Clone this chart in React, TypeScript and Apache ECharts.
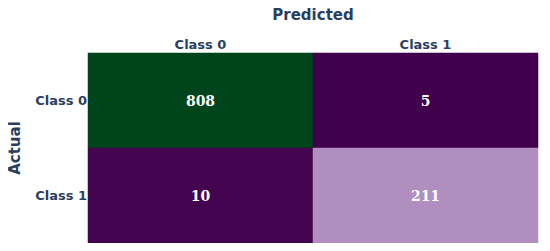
import React, { useEffect, useRef } from "react";
import * as echarts from "echarts";

const predictedLabels = ["Class 0", "Class 1"];
const actualLabels = ["Class 0", "Class 1"];
// rows: actual, cols: predicted
const counts = [
  [808, 5],
  [10, 211],
];
const prgn = [
  "rgb(64,0,75)", "rgb(118,42,131)", "rgb(153,112,171)", "rgb(194,165,207)",
  "rgb(231,212,232)", "rgb(247,247,247)", "rgb(217,240,211)", "rgb(166,219,160)",
  "rgb(90,174,97)", "rgb(27,120,55)", "rgb(0,68,27)",
];

export default function App() {
  const ref = useRef<HTMLDivElement>(null);
  useEffect(() => {
    if (!ref.current) return;
    const chart = echarts.init(ref.current, undefined, { renderer: "svg" });
    const data: [number, number, number][] = [];
    counts.forEach((row, r) => row.forEach((v, c) => data.push([c, r, v])));
    const flat = counts.flat();
    const textColor = "#2a3f5f";
    chart.setOption({
      animation: false,
      backgroundColor: "#ffffff",
      grid: { left: 88, top: 53, width: 450, height: 190, outerBoundsMode: "none", containLabel: false },
      xAxis: {
        type: "category",
        data: predictedLabels,
        position: "top",
        name: "Predicted",
        nameLocation: "middle",
        nameGap: 31,
        nameTextStyle: { color: textColor, fontFamily: "DejaVu Sans", fontWeight: "bold", fontSize: 15 },
        axisLine: { show: false },
        axisTick: { show: false },
        splitLine: { show: false },
        axisLabel: { color: textColor, fontFamily: "DejaVu Sans", fontWeight: "bold", fontSize: 13, margin: 2 },
      },
      yAxis: {
        type: "category",
        data: actualLabels,
        inverse: true,
        name: "Actual",
        nameLocation: "middle",
        nameRotate: 90,
        nameGap: 66,
        nameTextStyle: { color: textColor, fontFamily: "DejaVu Sans", fontWeight: "bold", fontSize: 15 },
        axisLine: { show: false },
        axisTick: { show: false },
        splitLine: { show: false },
        axisLabel: { color: textColor, fontFamily: "DejaVu Sans", fontWeight: "bold", fontSize: 13, margin: 1 },
      },
      visualMap: {
        show: false,
        min: Math.min(...flat),
        max: Math.max(...flat),
        calculable: false,
        inRange: { color: prgn },
      },
      series: [
        {
          type: "heatmap",
          data,
          label: {
            show: true,
            color: "#ffffff",
            fontFamily: "DejaVu Serif",
            fontWeight: "bold",
            fontSize: 14,
          },
          itemStyle: { borderWidth: 0 },
          emphasis: { disabled: true },
        },
      ],
    });
    return () => chart.dispose();
  }, []);
  return <div ref={ref} style={{ width: 550, height: 251, margin: -8 }} />;
}
